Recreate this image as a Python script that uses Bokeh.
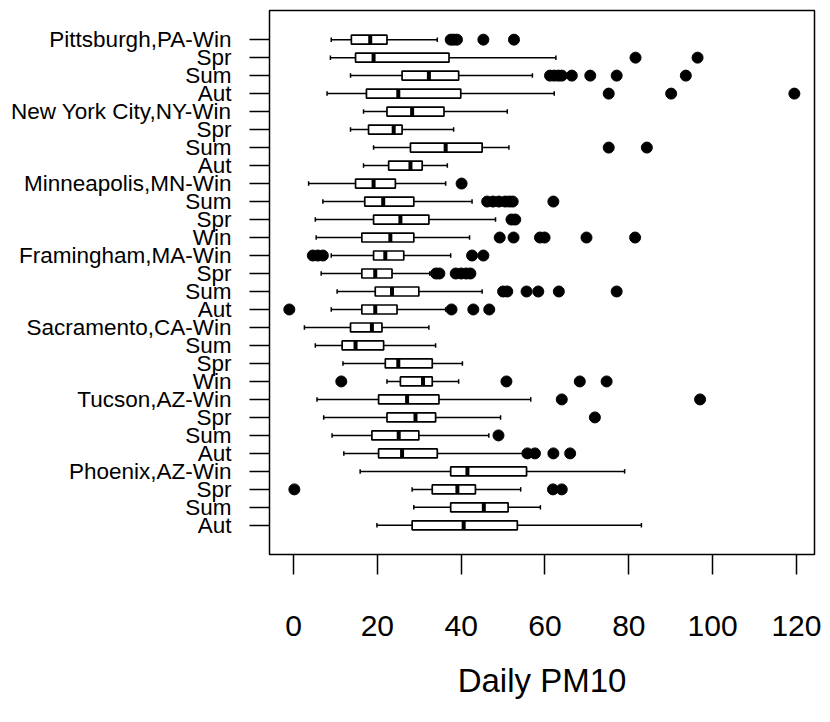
from bokeh.plotting import figure
from bokeh.models import Range1d, FixedTicker, ColumnDataSource
from bokeh.embed import file_html
from bokeh.resources import INLINE
import numpy as np

labels = ["Pittsburgh,PA-Win", "Spr", "Sum", "Aut",
          "New York City,NY-Win", "Spr", "Sum", "Aut",
          "Minneapolis,MN-Win", "Sum", "Spr", "Win",
          "Framingham,MA-Win", "Spr", "Sum", "Aut",
          "Sacramento,CA-Win", "Sum", "Spr", "Win",
          "Tucson,AZ-Win", "Spr", "Sum", "Aut",
          "Phoenix,AZ-Win", "Spr", "Sum", "Aut"]

whisk_lo = [9.0, 8.8, 13.6, 8.0, 16.7, 13.6, 19.1, 16.7, 3.6, 7.0, 5.2, 5.4, 9.0, 6.6,
            10.4, 9.0, 2.6, 5.2, 11.8, 22.3, 5.6, 7.2, 9.2, 12.0, 15.9, 28.3, 28.7, 19.9]
q1 = [13.8, 14.8, 25.9, 17.4, 22.3, 17.9, 27.9, 22.7, 14.8, 17.0, 19.1, 16.3, 19.1, 16.3,
      19.5, 16.3, 13.6, 11.6, 21.9, 25.5, 20.3, 22.3, 18.7, 20.3, 37.5, 33.1, 37.5, 28.3]
median = [18.3, 19.1, 32.3, 25.0, 28.3, 23.9, 36.3, 27.9, 19.1, 21.4, 25.5, 23.1, 21.9, 19.5,
          23.5, 19.5, 18.7, 14.8, 25.0, 30.9, 27.1, 29.1, 25.1, 25.9, 41.5, 39.1, 45.4, 40.6]
q3 = [22.3, 37.1, 39.4, 39.9, 35.9, 25.9, 45.0, 30.7, 24.3, 28.7, 32.3, 28.7, 26.3, 23.5,
      29.9, 24.7, 21.1, 21.5, 33.1, 33.1, 34.7, 33.9, 29.9, 34.3, 55.6, 43.4, 51.2, 53.4]
whisk_hi = [34.3, 62.6, 57.0, 62.2, 51.0, 38.2, 51.4, 36.7, 36.3, 42.6, 48.2, 42.0, 37.5, 32.5,
            45.0, 36.3, 32.3, 33.9, 40.3, 39.4, 56.6, 49.4, 46.6, 55.0, 79.0, 54.2, 58.9, 83.0]
outliers = [
    [37.5, 38.2, 39.0, 45.3, 52.6],
    [81.6, 96.4],
    [61.2, 62.2, 63.2, 64.0, 66.4, 70.8, 77.1, 93.6],
    [75.2, 90.1, 119.5],
    [],
    [],
    [75.2, 84.3],
    [],
    [40.1],
    [46.2, 47.6, 49.0, 50.5, 51.5, 52.3, 62.0],
    [52.0, 52.9],
    [49.2, 52.5, 58.8, 59.9, 69.9, 81.5],
    [4.6, 5.8, 7.0, 42.6, 45.3],
    [34.0, 34.8, 38.7, 40.0, 41.2, 42.2],
    [50.0, 51.0, 55.6, 58.4, 63.3, 77.1],
    [-1.0, 37.7, 42.9, 46.7],
    [],
    [],
    [],
    [11.4, 50.8, 68.3, 74.7],
    [64.0, 97.0],
    [71.9],
    [48.9],
    [55.8, 57.6, 62.0, 66.0],
    [],
    [0.2, 61.9, 64.0],
    [],
    [],
]
x_ticks = [0, 20, 40, 60, 80, 100, 120]
x_title = "Daily PM10"

n = len(labels)
ypos = [n - i for i in range(n)]
hw = 0.25
yarr = np.array(ypos, dtype=float)

p = figure(width=822, height=714, output_backend="svg", toolbar_location=None,
           x_range=Range1d(-5.73, 124.3), y_range=Range1d(0.5 - 1.12, n + 0.5 + 1.12),
           min_border_left=269, min_border_right=8, min_border_top=10, min_border_bottom=160)
p.background_fill_color = "white"
p.border_fill_color = "white"
p.outline_line_color = "black"
p.outline_line_width = 1.5
p.grid.visible = False

src = ColumnDataSource(dict(y=ypos, lo=whisk_lo, q1=q1, med=median, q3=q3, hi=whisk_hi,
                            ylo=list(yarr - hw), yhi=list(yarr + hw),
                            slo=list(yarr - hw / 2), shi=list(yarr + hw / 2)))
# whiskers
p.segment(x0="lo", y0="y", x1="q1", y1="y", source=src, line_color="black", line_width=1.5)
p.segment(x0="q3", y0="y", x1="hi", y1="y", source=src, line_color="black", line_width=1.5)
# staples
p.segment(x0="lo", y0="slo", x1="lo", y1="shi", source=src, line_color="black", line_width=1.5)
p.segment(x0="hi", y0="slo", x1="hi", y1="shi", source=src, line_color="black", line_width=1.5)
# boxes
p.hbar(y="y", height=2 * hw, left="q1", right="q3", source=src,
       fill_color="white", line_color="black", line_width=1.7)
# medians
p.segment(x0="med", y0="ylo", x1="med", y1="yhi", source=src, line_color="black", line_width=4)
# outliers
ox, oy = [], []
for i, row in enumerate(outliers):
    for v in row:
        ox.append(v)
        oy.append(ypos[i])
p.scatter(ox, oy, marker="circle", size=11, fill_color="black", line_color="black")

# x axis
p.xaxis.ticker = FixedTicker(ticks=x_ticks)
p.xaxis.axis_line_color = None
p.xaxis.major_tick_out = 20
p.xaxis.major_tick_in = 0
p.xaxis.major_tick_line_width = 1.5
p.xaxis.major_tick_line_color = "black"
p.xaxis.minor_tick_line_color = None
p.xaxis.major_label_text_font = "Liberation Sans"
p.xaxis.major_label_text_font_size = "30px"
p.xaxis.major_label_text_color = "black"
p.xaxis.major_label_standoff = 41
p.xaxis.axis_label = x_title
p.xaxis.axis_label_text_font = "Liberation Sans"
p.xaxis.axis_label_text_font_style = "normal"
p.xaxis.axis_label_text_font_size = "33px"
p.xaxis.axis_label_text_color = "black"
p.xaxis.axis_label_standoff = 23

# y axis
p.yaxis.ticker = FixedTicker(ticks=ypos)
p.yaxis.major_label_overrides = {ypos[i]: labels[i] for i in range(n)}
p.yaxis.axis_line_color = None
p.yaxis.major_tick_out = 20
p.yaxis.major_tick_in = 0
p.yaxis.major_tick_line_width = 1.5
p.yaxis.major_tick_line_color = "black"
p.yaxis.minor_tick_line_color = None
p.yaxis.major_label_text_font = "Liberation Sans"
p.yaxis.major_label_text_font_size = "22.5px"
p.yaxis.major_label_text_color = "black"
p.yaxis.major_label_standoff = 18

open("out.html", "w").write(file_html(p, INLINE))
